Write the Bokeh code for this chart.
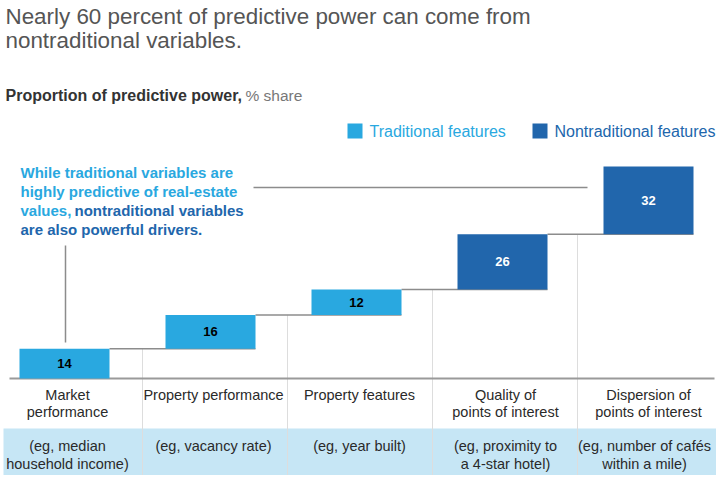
import numpy as np
from bokeh.plotting import figure
from bokeh.models import Range1d, ColumnDataSource, Label
from bokeh.core.properties import value
from bokeh.embed import file_html
from bokeh.resources import INLINE

# ---------------- data ----------------
categories = ["Market performance", "Property performance", "Property features",
              "Quality of points of interest", "Dispersion of points of interest"]
category_lines = [["Market", "performance"], ["Property performance"], ["Property features"],
                  ["Quality of", "points of interest"], ["Dispersion of", "points of interest"]]
example_lines = [["(eg, median", "household income)"], ["(eg, vacancy rate)"], ["(eg, year built)"],
                 ["(eg, proximity to", "a 4-star hotel)"], ["(eg, number of cafés", "within a mile)"]]
shares = [14, 16, 12, 26, 32]
feature_type = ["Traditional", "Traditional", "Traditional", "Nontraditional", "Nontraditional"]
legend_labels = ["Traditional features", "Nontraditional features"]

title_lines = ["Nearly 60 percent of predictive power can come from", "nontraditional variables."]
subtitle_main = "Proportion of predictive power,"
subtitle_unit = "% share"

# ---------------- styles ----------------
FONT = "Liberation Sans"
LIGHT = "#29a8e0"
DARK = "#2166ac"
GRAY_LINE = "#8c8c8c"
SEP = "#dddddd"
BAND = "#c6e6f5"
color_of = {"Traditional": LIGHT, "Nontraditional": DARK}
label_color_of = {"Traditional": "#000000", "Nontraditional": "#ffffff"}

# picture-pixel -> data helpers (x data is picture pixels; y data is % share)
BASE_PY = 378.0
PX_PER_UNIT = 2.12
def Y(py):
    return (BASE_PY - py) / PX_PER_UNIT

W, H = 716, 475
p = figure(width=W, height=H, x_range=Range1d(0, W), y_range=Range1d(Y(H), Y(0)),
           output_backend="svg", toolbar_location=None, min_border=0,
           min_border_left=0, min_border_right=0, min_border_top=0, min_border_bottom=0)
p.axis.visible = False
p.grid.visible = False
p.outline_line_color = None
p.background_fill_color = "white"
p.border_fill_color = "white"

n = len(shares)
vals = np.array(shares, dtype=float)
cum = np.cumsum(vals)
bottoms = cum - vals
centers = 64 + 146 * np.arange(n)
BW = 90
lefts = centers - BW / 2
rights = centers + BW / 2
label_x = centers + 3
label_x[-1] = centers[-1] - 4   # keep the last column's texts inside the frame

# example band
p.quad(left=3, right=721, bottom=Y(479), top=Y(428), fill_color=BAND, line_color=None)

# column separators (from level line down to bottom)
sep_x = 142 + 145 * np.arange(n - 1)
p.segment(x0=sep_x, y0=cum[:-1], x1=sep_x, y1=Y(H), line_color=SEP, line_width=1)

# baseline axis
p.segment(x0=[9], y0=[0], x1=[714], y1=[0], line_color="#9a9a9a", line_width=2)

# connectors
p.segment(x0=rights[:-1], y0=cum[:-1], x1=rights[1:], y1=cum[:-1], line_color=GRAY_LINE, line_width=1.5)

# bars
src = ColumnDataSource(dict(left=lefts, right=rights, bottom=bottoms, top=cum,
                            color=[color_of[t] for t in feature_type],
                            lab=[str(v) for v in shares],
                            labc=[label_color_of[t] for t in feature_type],
                            x=centers, ymid=(bottoms + cum) / 2))
p.quad(left="left", right="right", bottom="bottom", top="top", fill_color="color",
       line_color=None, source=src)
p.text(x="x", y="ymid", text="lab", text_color="labc", text_font=value(FONT),
       text_font_size="13px", text_font_style="bold", text_align="center",
       text_baseline="middle", source=src)

# category labels and examples
cx, cy, ct = [], [], []
for i, lines in enumerate(category_lines):
    for j, t in enumerate(lines):
        cx.append(label_x[i] + (4 if i == n - 1 else 0)); cy.append(Y(394 + 17 * j)); ct.append(t)
p.text(x=cx, y=cy, text=ct, text_color="#2a2a2a", text_font=value(FONT),
       text_font_size="14.5px", text_align="center", text_baseline="middle")
ex, ey, et = [], [], []
for i, lines in enumerate(example_lines):
    for j, t in enumerate(lines):
        ex.append(label_x[i]); ey.append(Y(445 + 18 * j)); et.append(t)
p.text(x=ex, y=ey, text=et, text_color="#2a2a2a", text_font=value(FONT),
       text_font_size="14.5px", text_align="center", text_baseline="middle")

# title and subtitle
for j, t in enumerate(title_lines):
    p.add_layout(Label(x=5, y=Y(16 + 24 * j), text=t, text_font=FONT, text_font_size="22.4px",
                       text_color="#555555", text_baseline="middle"))
p.add_layout(Label(x=5, y=Y(95), text=subtitle_main, text_font=FONT, text_font_size="16px",
                   text_font_style="bold", text_color="#333333", text_baseline="middle"))
p.add_layout(Label(x=245, y=Y(95), text=subtitle_unit, text_font=FONT, text_font_size="15.5px",
                   text_color="#777777", text_baseline="middle"))

# legend
leg_x = [347, 532]
for k, lab in enumerate(legend_labels):
    c = LIGHT if k == 0 else DARK
    p.quad(left=leg_x[k], right=leg_x[k] + 15, bottom=Y(138), top=Y(123), fill_color=c, line_color=None)
    p.add_layout(Label(x=leg_x[k] + 22, y=Y(131), text=lab, text_font=FONT, text_font_size="16px",
                       text_color=c, text_baseline="middle"))

# annotation
ann = [(20, 172, "While traditional variables are", LIGHT),
       (20, 191, "highly predictive of real-estate", LIGHT),
       (20, 210, "values,", LIGHT),
       (74, 210, "nontraditional variables", DARK),
       (20, 229, "are also powerful drivers.", DARK)]
for ax_, ay_, t, c in ann:
    p.add_layout(Label(x=ax_, y=Y(ay_), text=t, text_font=FONT, text_font_size="15px",
                       text_font_style="bold", text_color=c, text_baseline="middle"))

# leader lines
p.segment(x0=[65, 253], y0=[Y(245), Y(187)], x1=[65, 587], y1=[Y(342), Y(187)],
          line_color=GRAY_LINE, line_width=1.5)

open("out.html", "w").write(file_html(p, INLINE))
